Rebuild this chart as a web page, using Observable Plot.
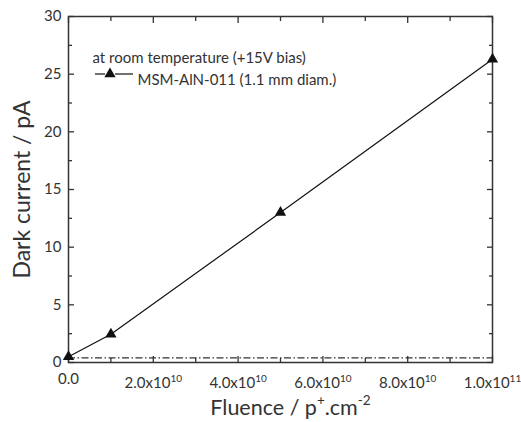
<!DOCTYPE html>
<html>
<head>
<meta charset="utf-8">
<script src="https://cdn.jsdelivr.net/npm/d3@7"></script>
<script src="https://cdn.jsdelivr.net/npm/@observablehq/plot@0.6"></script>
<style>
  html, body { margin: 0; padding: 0; background: #fff; }
  #chart { width: 521px; height: 422px; }
</style>
</head>
<body>
<div id="chart"></div>
<script>
// ---- data ----
const fluence = [0, 1e10, 5e10, 1e11];
const darkCurrent = [0.5, 2.45, 13.0, 26.3];
const baselineLevel = [0.4];
const xMajor = [0, 2e10, 4e10, 6e10, 8e10, 1e11];
const xMinor = [1e10, 3e10, 5e10, 7e10, 9e10];
const xTickLabels = ["0.0", "2.0x10{10}", "4.0x10{10}", "6.0x10{10}", "8.0x10{10}", "1.0x10{11}"];
const yMajor = [0, 5, 10, 15, 20, 25, 30];
const yMinor = [2.5, 7.5, 12.5, 17.5, 22.5, 27.5];
const xTitle = "Fluence / p{+}.cm{-2}";
const yTitle = "Dark current / pA";
const legendNote = "at room temperature (+15V bias)";
const seriesName = "MSM-AlN-011 (1.1 mm diam.)";

const data = fluence.map((f, i) => ({f, c: darkCurrent[i]}));
const ink = "#333";
const tickOpts = {label: null, fill: "none", stroke: ink, strokeWidth: 1.3};
const fmtX = d => xTickLabels[xMajor.indexOf(d)];

const plot = Plot.plot({
  width: 521,
  height: 422,
  marginLeft: 68,
  marginRight: 29,
  marginTop: 16,
  marginBottom: 60,
  style: {fontFamily: "Lato", fontSize: "15px", color: ink, background: "#fff"},
  x: {domain: [0, 1e11]},
  y: {domain: [0, 30]},
  marks: [
    // tick labels
    Plot.axisX({anchor: "bottom", ticks: xMajor.slice(0, 1), tickSize: 0, tickPadding: 11,
      tickFormat: fmtX, fontSize: 15, label: null}),
    Plot.axisX({anchor: "bottom", ticks: xMajor.slice(1), tickSize: 0, tickPadding: 15,
      tickFormat: fmtX, fontSize: 15, label: null}),
    Plot.axisY({anchor: "left", ticks: yMajor, tickSize: 0, tickPadding: 7,
      tickFormat: d => String(d), fontSize: 15, label: null}),
    // inward ticks, all sides
    Plot.axisX({anchor: "bottom", ticks: xMajor, tickSize: -6, ...tickOpts}),
    Plot.axisX({anchor: "bottom", ticks: xMinor, tickSize: -4, ...tickOpts}),
    Plot.axisX({anchor: "top", ticks: xMajor, tickSize: -6, ...tickOpts}),
    Plot.axisX({anchor: "top", ticks: xMinor, tickSize: -4, ...tickOpts}),
    Plot.axisY({anchor: "left", ticks: yMajor, tickSize: -6, ...tickOpts}),
    Plot.axisY({anchor: "left", ticks: yMinor, tickSize: -4, ...tickOpts}),
    Plot.axisY({anchor: "right", ticks: yMajor, tickSize: -6, ...tickOpts}),
    Plot.axisY({anchor: "right", ticks: yMinor, tickSize: -4, ...tickOpts}),
    Plot.frame({stroke: ink, strokeWidth: 1.5}),
    // baseline dash-dot
    Plot.ruleY(baselineLevel, {stroke: ink, strokeWidth: 1.2, strokeDasharray: "7,2.5,1.5,2.5"}),
    // series
    Plot.line(data, {x: "f", y: "c", stroke: "#111", strokeWidth: 1.2}),
    Plot.dot(data, {x: "f", y: "c", symbol: "triangle", r: 4.2, fill: "#111", stroke: "none"}),
    // titles
    Plot.text([yTitle], {text: d => d, frameAnchor: "left", textAnchor: "middle", dx: -46, rotate: -90, fontSize: 23, fill: ink}),
    Plot.text([xTitle], {text: d => d, frameAnchor: "bottom", textAnchor: "middle", dx: 10, dy: 52, fontSize: 21.5, fill: ink}),
    // legend texts
    Plot.text([legendNote], {text: d => d, frameAnchor: "top-left", dx: 24, dy: 36, textAnchor: "start", fontSize: 15, fill: ink}),
    Plot.text([seriesName], {text: d => d, frameAnchor: "top-left", dx: 69, dy: 58, textAnchor: "start", fontSize: 15, fill: ink})
  ]
});

// superscript post-processing: "base{sup}" -> tspans
function applySup(textEl, baseSize, supSize, shift) {
  const s = textEl.textContent;
  if (!s.includes("{")) return;
  const parts = s.split(/(\{[^}]*\})/).filter(p => p.length);
  while (textEl.firstChild) textEl.removeChild(textEl.firstChild);
  let raised = false;
  const ns = "http://www.w3.org/2000/svg";
  for (const p of parts) {
    const t = document.createElementNS(ns, "tspan");
    if (p.startsWith("{")) {
      t.textContent = p.slice(1, -1);
      t.setAttribute("font-size", supSize);
      t.setAttribute("dy", -shift);
      raised = true;
    } else {
      t.textContent = p;
      t.setAttribute("font-size", baseSize);
      if (raised) { t.setAttribute("dy", shift); raised = false; }
    }
    textEl.appendChild(t);
  }
}
d3.select(plot).selectAll("text").each(function() {
  if (this.textContent.startsWith("Fluence")) applySup(this, 21.5, 13.5, 10);
  else applySup(this, 15, 10, 6);
});

// legend sample (line + triangle)
const svg = d3.select(plot);
const ly = 74, tx = 110;
for (const [a, b] of [[95, 105], [115, 133]]) {
  svg.append("line").attr("x1", a).attr("x2", b).attr("y1", ly).attr("y2", ly)
    .attr("stroke", "#111").attr("stroke-width", 1.2);
}
svg.append("path").attr("transform", `translate(${tx},${ly})`)
  .attr("d", d3.symbol(d3.symbolTriangle, Math.PI * 4.2 * 4.2)()).attr("fill", "#111");

document.getElementById("chart").appendChild(plot);
</script>
</body>
</html>
